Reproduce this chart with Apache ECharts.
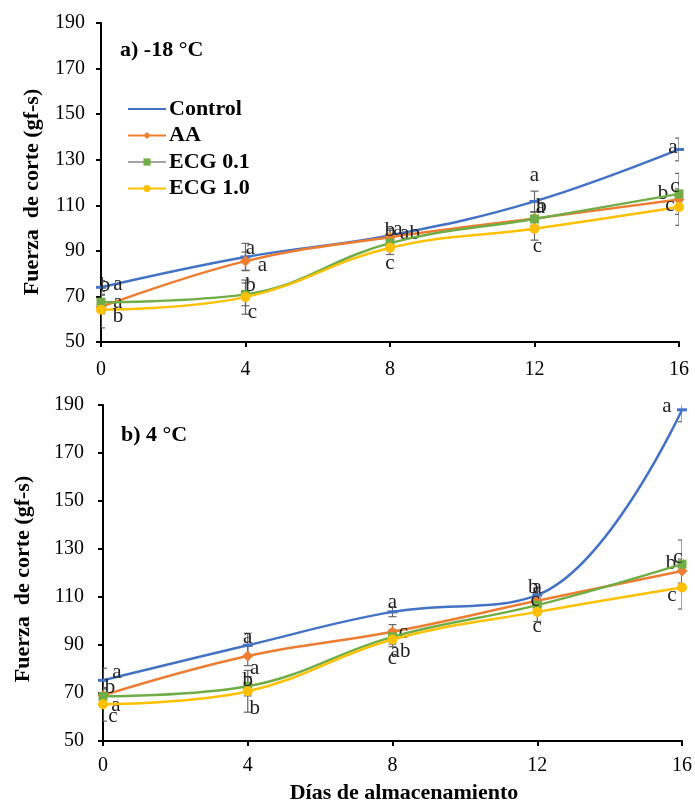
<!DOCTYPE html>
<html>
<head>
<meta charset="utf-8">
<script src="https://cdn.jsdelivr.net/npm/echarts@6/dist/echarts.min.js"></script>
<style>
html,body{margin:0;padding:0;background:#fff;}
#chart{width:695px;height:801px;}
</style>
</head>
<body>
<div id="chart"></div>
<script>
var days = [0, 4, 8, 12, 16];
var seriesNames = ['Control', 'AA', 'ECG 0.1', 'ECG 1.0'];

// a) -18 °C
var controlFrozen = [74, 87.3, 96.8, 111.7, 134.5];
var aaFrozen      = [65.4, 85.5, 96, 104.2, 112.5];
var ecg01Frozen   = [67.5, 70.9, 93.4, 104, 115];
var ecg10Frozen   = [64.2, 69.7, 91.4, 99.7, 109.2];
var controlFrozenErr = [3, 6, 3, 4.5, 5];
var aaFrozenErr      = [3, 4, 3, 3, 4];
var ecg01FrozenErr   = [3, 5, 3, 3, 9];
var ecg10FrozenErr   = [8, 7.5, 3, 5, 8];
var controlFrozenLet = ['a', 'a', 'a', 'a', 'a'];
var aaFrozenLet      = ['a', 'a', 'ab', 'a', 'b'];
var ecg01FrozenLet   = ['b', 'b', 'b', 'b', 'c'];
var ecg10FrozenLet   = ['b', 'c', 'c', 'c', 'c'];

// b) 4 °C
var controlCold = [75.3, 89.9, 103.8, 110.8, 188];
var aaCold      = [69, 85.4, 95.5, 108.4, 120.8];
var ecg01Cold   = [68.6, 72.8, 93.4, 106.6, 123.7];
var ecg10Cold   = [65.3, 70.7, 92.3, 103.8, 114];
var controlColdErr = [5, 5, 2, 3, 5];
var aaColdErr      = [3, 4, 3, 3, 5];
var ecg01ColdErr   = [3, 4, 3, 3, 10];
var ecg10ColdErr   = [7, 8.7, 3, 4, 9];
var controlColdLet = ['a', 'a', 'a', 'a', 'a'];
var aaColdLet      = ['b', 'a', 'c', 'b', 'b'];
var ecg01ColdLet   = ['a', 'b', 'ab', 'c', 'c'];
var ecg10ColdLet   = ['c', 'b', 'c', 'c', 'c'];

// label offsets (pixels, styling only)
var offFrozen = [
    [[17,-3],[5,-9],[8,-6],[0,-26],[-6,-2]],
    [[17,-4],[17,4],[20,-4],[6,-11],[-16,-6]],
    [[4,-17],[5,-9],[0,-13],[7,-12],[-4,-7]],
    [[17,7],[7,15],[0,16],[3,18],[-9,-2]]
];
var offCold = [
    [[14,-8],[0,-8],[0,-9],[0,-8],[-15,-3]],
    [[7,-8],[7,12],[11,1],[-4,-13],[-11,-8]],
    [[13,9],[0,-6],[8,15],[-2,-5],[-4,-7]],
    [[10,12],[7,17],[0,19],[0,15],[-10,8]]
];

var colors = ['#4472C4', '#ED7D31', '#70AD47', '#FFC000'];
var symbols = ['rect', 'diamond', 'rect', 'circle'];
var symbolSizes = [[10, 3], 11, 9, 10];
var fontFam = '"Liberation Serif", "Times New Roman", serif';

function lineSeries(idx, values, letters, offs, grid) {
    return {
        name: seriesNames[idx],
        type: 'line',
        xAxisIndex: grid, yAxisIndex: grid,
        smooth: 0.4,
        symbol: symbols[idx],
        symbolSize: symbolSizes[idx],
        showSymbol: true,
        z: 3 + idx,
        lineStyle: {color: colors[idx], width: 2.5},
        itemStyle: {color: colors[idx]},
        data: values.map(function (v, i) {
            return {
                value: [days[i], v],
                label: {
                    show: true, position: 'inside', formatter: letters[i],
                    offset: offs[i], color: '#222', fontFamily: fontFam, fontSize: 21
                }
            };
        })
    };
}

function errSeries(values, errs, grid) {
    return {
        type: 'custom',
        xAxisIndex: grid, yAxisIndex: grid,
        clip: true,
        z: 2,
        silent: true,
        data: values.map(function (v, i) { return [days[i], v, errs[i]]; }),
        renderItem: function (params, api) {
            var x = api.value(0), y = api.value(1), e = api.value(2);
            var top = api.coord([x, y + e]);
            var bot = api.coord([x, y - e]);
            var s = {stroke: '#666', lineWidth: 1.2};
            return {
                type: 'group',
                children: [
                    {type: 'line', shape: {x1: top[0], y1: top[1], x2: bot[0], y2: bot[1]}, style: s},
                    {type: 'line', shape: {x1: top[0] - 4, y1: top[1], x2: top[0] + 4, y2: top[1]}, style: s},
                    {type: 'line', shape: {x1: bot[0] - 4, y1: bot[1], x2: bot[0] + 4, y2: bot[1]}, style: s}
                ]
            };
        }
    };
}

function xAxis(grid, margin) {
    return {
        type: 'value', gridIndex: grid, min: 0, max: 16, interval: 4,
        axisLine: {show: true, onZero: false, lineStyle: {color: '#000', width: 2}},
        axisTick: {show: true, length: 5, lineStyle: {color: '#000', width: 2}},
        axisLabel: {color: '#000', fontFamily: fontFam, fontSize: 20, margin: margin},
        splitLine: {show: false}
    };
}
function yAxis(grid, margin) {
    return {
        type: 'value', gridIndex: grid, min: 50, max: 190, interval: 20,
        axisLine: {show: true, lineStyle: {color: '#000', width: 2}},
        axisTick: {show: true, length: 5, lineStyle: {color: '#000', width: 2}},
        axisLabel: {color: '#000', fontFamily: fontFam, fontSize: 20, margin: margin},
        splitLine: {show: false}
    };
}

var series = [];
var frozen = [controlFrozen, aaFrozen, ecg01Frozen, ecg10Frozen];
var frozenErr = [controlFrozenErr, aaFrozenErr, ecg01FrozenErr, ecg10FrozenErr];
var frozenLet = [controlFrozenLet, aaFrozenLet, ecg01FrozenLet, ecg10FrozenLet];
var cold = [controlCold, aaCold, ecg01Cold, ecg10Cold];
var coldErr = [controlColdErr, aaColdErr, ecg01ColdErr, ecg10ColdErr];
var coldLet = [controlColdLet, aaColdLet, ecg01ColdLet, ecg10ColdLet];
for (var i = 0; i < 4; i++) {
    series.push(errSeries(frozen[i], frozenErr[i], 0));
    series.push(errSeries(cold[i], coldErr[i], 1));
}
for (var i = 0; i < 4; i++) {
    series.push(lineSeries(i, frozen[i], frozenLet[i], offFrozen[i], 0));
    series.push(lineSeries(i, cold[i], coldLet[i], offCold[i], 1));
}

var yName = 'Fuerza  de corte (gf-s)';
var myChart = echarts.init(document.getElementById('chart'), null, {renderer: 'canvas'});
myChart.setOption({
    backgroundColor: '#fff',
    animation: false,
    grid: [
        {left: 101, top: 23, right: 16, height: 319},
        {left: 103, top: 405, right: 13, height: 336}
    ],
    xAxis: [xAxis(0, 18), xAxis(1, 15)],
    yAxis: [yAxis(0, 16), yAxis(1, 19)],
    legend: {
        data: [
            {name: 'Control', itemStyle: {opacity: 0}},
            {name: 'AA'},
            {name: 'ECG 0.1', lineStyle: {color: '#A5A5A5'}},
            {name: 'ECG 1.0'}
        ],
        orient: 'vertical',
        left: 122, top: 93,
        itemWidth: 38, itemHeight: 9,
        itemGap: 4.5,
        textStyle: {color: '#000', fontFamily: fontFam, fontSize: 22, fontWeight: 'bold', lineHeight: 20, padding: [0, 0, 0, -2]}
    },
    graphic: [
        {type: 'text', x: 120, y: 50, style: {text: 'a) -18 °C', fill: '#000', font: 'bold 22px "Liberation Serif"', verticalAlign: 'middle'}},
        {type: 'text', x: 121, y: 435, style: {text: 'b) 4 °C', fill: '#000', font: 'bold 22px "Liberation Serif"', verticalAlign: 'middle'}},
        {type: 'text', x: 32, y: 192, rotation: Math.PI / 2, style: {text: yName, fill: '#000', font: 'bold 22px "Liberation Serif"', align: 'center', verticalAlign: 'middle'}},
        {type: 'text', x: 23, y: 579, rotation: Math.PI / 2, style: {text: yName, fill: '#000', font: 'bold 22px "Liberation Serif"', align: 'center', verticalAlign: 'middle'}},
        {type: 'text', x: 404, y: 793, style: {text: 'Días de almacenamiento', fill: '#000', font: 'bold 22px "Liberation Serif"', align: 'center', verticalAlign: 'middle'}}
    ],
    series: series
});
</script>
</body>
</html>
